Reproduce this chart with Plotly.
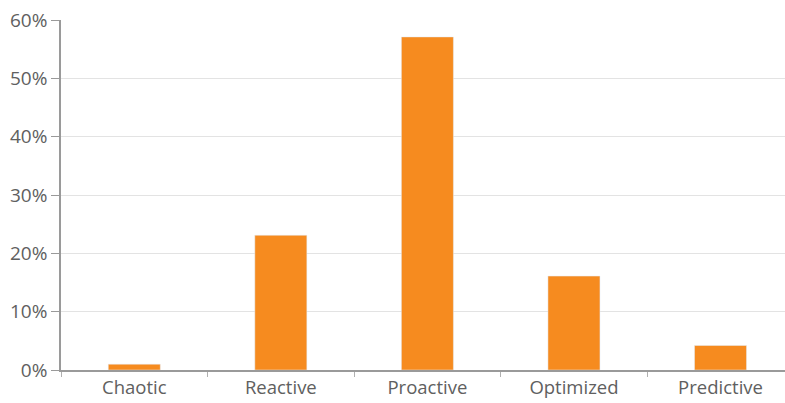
import plotly.graph_objects as go

categories = ["Chaotic", "Reactive", "Proactive", "Optimized", "Predictive"]
values = [1.0, 23.1, 57.1, 16.1, 4.2]
y_ticks = [0, 10, 20, 30, 40, 50, 60]
y_tick_labels = ["0%", "10%", "20%", "30%", "40%", "50%", "60%"]

fig = go.Figure(go.Bar(
    x=categories, y=values, marker_color="#F68B1F", width=0.355,
    hoverinfo="skip",
))

fig.update_layout(
    width=785, height=403,
    margin=dict(l=61, r=0, t=20, b=33),
    paper_bgcolor="white", plot_bgcolor="white",
    font=dict(family="Open Sans, sans-serif", size=18, color="#606060"),
    showlegend=False,
)
fig.update_xaxes(
    range=[-0.5, 4.44], showline=True, linecolor="#9a9a9a", linewidth=1.5,
    ticks="outside", tickson="boundaries", ticklen=5, tickcolor="#b0b0b0",
    showgrid=False, tickfont=dict(size=18.5, color="#606060"),
)
fig.update_yaxes(
    range=[0, 60], tickvals=y_ticks, ticktext=y_tick_labels,
    showline=True, linecolor="#9a9a9a", linewidth=1.5,
    ticks="outside", ticklen=8, tickcolor="#9a9a9a",
    showgrid=True, gridcolor="#e3e3e3", gridwidth=1, zeroline=False,
    tickfont=dict(size=19, color="#606060"),
)

fig.write_html("out.html")
